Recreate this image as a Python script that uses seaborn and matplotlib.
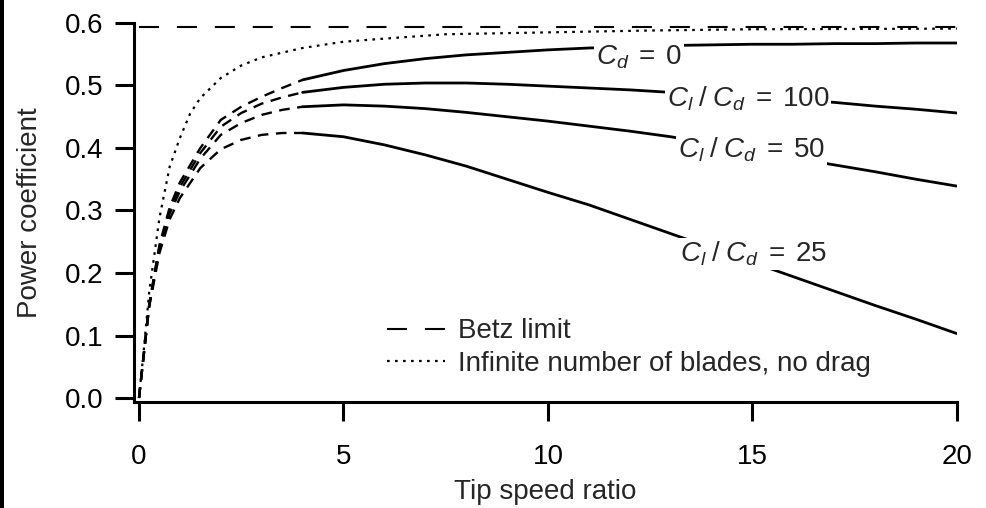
import numpy as np
import pandas as pd
import seaborn as sns
import matplotlib.pyplot as plt
from matplotlib.patches import Rectangle

# Tip speed ratio grids
lam_lo = [0, 0.1, 0.25, 0.5, 0.75, 1.0, 1.5, 2.0, 2.5, 3.0, 3.5, 4.0]
lam_hi = [4, 5, 6, 7, 8, 9, 10, 11, 12, 13, 14, 15, 16, 17, 18, 19, 20]

# Cd = 0 and lift/drag ratio curves, dashed part (low tip speed ratio)
cd0_lo = [0, 0.06, 0.15, 0.245, 0.305, 0.345, 0.40, 0.445, 0.466, 0.482, 0.496, 0.509]
r100_lo = [0, 0.06, 0.149, 0.242, 0.30, 0.338, 0.392, 0.434, 0.456, 0.471, 0.481, 0.489]
r50_lo = [0, 0.06, 0.148, 0.238, 0.295, 0.331, 0.383, 0.421, 0.440, 0.453, 0.461, 0.466]
r25_lo = [0, 0.059, 0.146, 0.232, 0.286, 0.320, 0.368, 0.398, 0.413, 0.421, 0.424, 0.424]

# solid part
cd0_hi = [0.509, 0.524, 0.535, 0.543, 0.549, 0.553, 0.557, 0.560, 0.562, 0.564,
          0.565, 0.566, 0.566, 0.567, 0.567, 0.568, 0.568]
r100_hi = [0.489, 0.497, 0.502, 0.504, 0.504, 0.502, 0.499, 0.496, 0.493, 0.489,
           0.485, 0.481, 0.477, 0.473, 0.467, 0.462, 0.456]
r50_hi = [0.466, 0.469, 0.467, 0.463, 0.457, 0.450, 0.443, 0.435, 0.427, 0.418,
          0.407, 0.396, 0.384, 0.373, 0.362, 0.350, 0.339]
r25_hi = [0.424, 0.418, 0.405, 0.389, 0.371, 0.350, 0.329, 0.309, 0.286, 0.263,
          0.240, 0.217, 0.194, 0.171, 0.148, 0.126, 0.103]

# infinite number of blades, no drag
lam_inf = [0, 0.1, 0.25, 0.5, 0.75, 1.0, 1.25, 1.5, 2.0, 2.5, 3.0, 4.0, 5.0, 6.0,
           7.5, 10.0, 12.5, 15.0, 20.0]
cp_inf = [0, 0.065, 0.17, 0.288, 0.37, 0.416, 0.455, 0.48, 0.512, 0.532, 0.545,
          0.560, 0.570, 0.575, 0.582, 0.585, 0.588, 0.590, 0.591]

betz_x = [0, 20]
betz_y = [0.593, 0.593]

curve_labels = [r"$C_d\;=\;0$", r"$C_l\;/\;C_d\;=\;100$", r"$C_l\;/\;C_d\;=\;50$",
                r"$C_l\;/\;C_d\;=\;25$"]
label_x = [12.22, 14.89, 14.98, 15.04]
label_y = [0.533, 0.467, 0.384, 0.2176]

sns.set_style("ticks")
plt.rcParams["font.family"] = ["Liberation Sans", "DejaVu Sans"]
plt.rcParams["mathtext.fontset"] = "custom"
plt.rcParams["mathtext.rm"] = "Liberation Sans"
plt.rcParams["mathtext.it"] = "Liberation Sans:italic"

fig = plt.figure(figsize=(9.86, 5.08), dpi=100)
ax = fig.add_axes([134 / 986, 1 - 402 / 508, 823 / 986, 379 / 508])

fs = 20
lw = 2.0

# Betz limit and ideal rotor
sns.lineplot(x=betz_x, y=betz_y, ax=ax, color="black", lw=1.5,
             linestyle=(0, (9.6, 8.6)), label="Betz limit")
sns.lineplot(x=lam_inf, y=cp_inf, ax=ax, color="black", lw=1.6,
             linestyle=(0, (1.2, 2.4)), label="Infinite number of blades, no drag")

for lo, hi in [(cd0_lo, cd0_hi), (r100_lo, r100_hi), (r50_lo, r50_hi), (r25_lo, r25_hi)]:
    sns.lineplot(x=lam_lo, y=lo, ax=ax, color="black", lw=1.7,
                 linestyle=(0, (4.5, 3.2)), sort=False)
    sns.lineplot(x=lam_hi, y=hi, ax=ax, color="black", lw=lw, sort=False)

for txt, tx, ty in zip(curve_labels, label_x, label_y):
    ax.text(tx, ty, txt, ha="center", va="baseline", fontsize=fs, zorder=5,
            bbox=dict(facecolor="white", edgecolor="none", pad=1.5))

ax.set_xlim(-0.122, 20)
ax.set_ylim(-0.0064, 0.6)
ax.set_xticks([0, 5, 10, 15, 20])
ax.set_yticks([0.0, 0.1, 0.2, 0.3, 0.4, 0.5, 0.6])
ax.set_yticklabels(["0.0", "0.1", "0.2", "0.3", "0.4", "0.5", "0.6"])
ax.tick_params(axis="both", direction="out", length=14, width=2.2,
               labelsize=fs, colors="black")
ax.tick_params(axis="y", pad=8)
ax.tick_params(axis="x", pad=16)
ax.set_xlabel("Tip speed ratio", fontsize=fs, labelpad=7)
ax.set_ylabel("Power coefficient", fontsize=fs, labelpad=16)

sns.despine(ax=ax)
for s in ["left", "bottom"]:
    ax.spines[s].set_linewidth(2.2)
    ax.spines[s].set_color("black")

handles, labels = ax.get_legend_handles_labels()
ax.legend(handles[:2], labels[:2], loc="center left",
          bbox_to_anchor=((387 - 134) / 823, (402 - 347.5) / 379),
          frameon=False, fontsize=fs, handlelength=2.1, handletextpad=0.45,
          borderpad=0, borderaxespad=0, labelspacing=0.23)

# dark strip on the left edge of the scan
fig.patches.append(Rectangle((0, 0), 4 / 986, 1, transform=fig.transFigure,
                             facecolor="black", edgecolor="none"))

fig.savefig("out.png", dpi=100)
